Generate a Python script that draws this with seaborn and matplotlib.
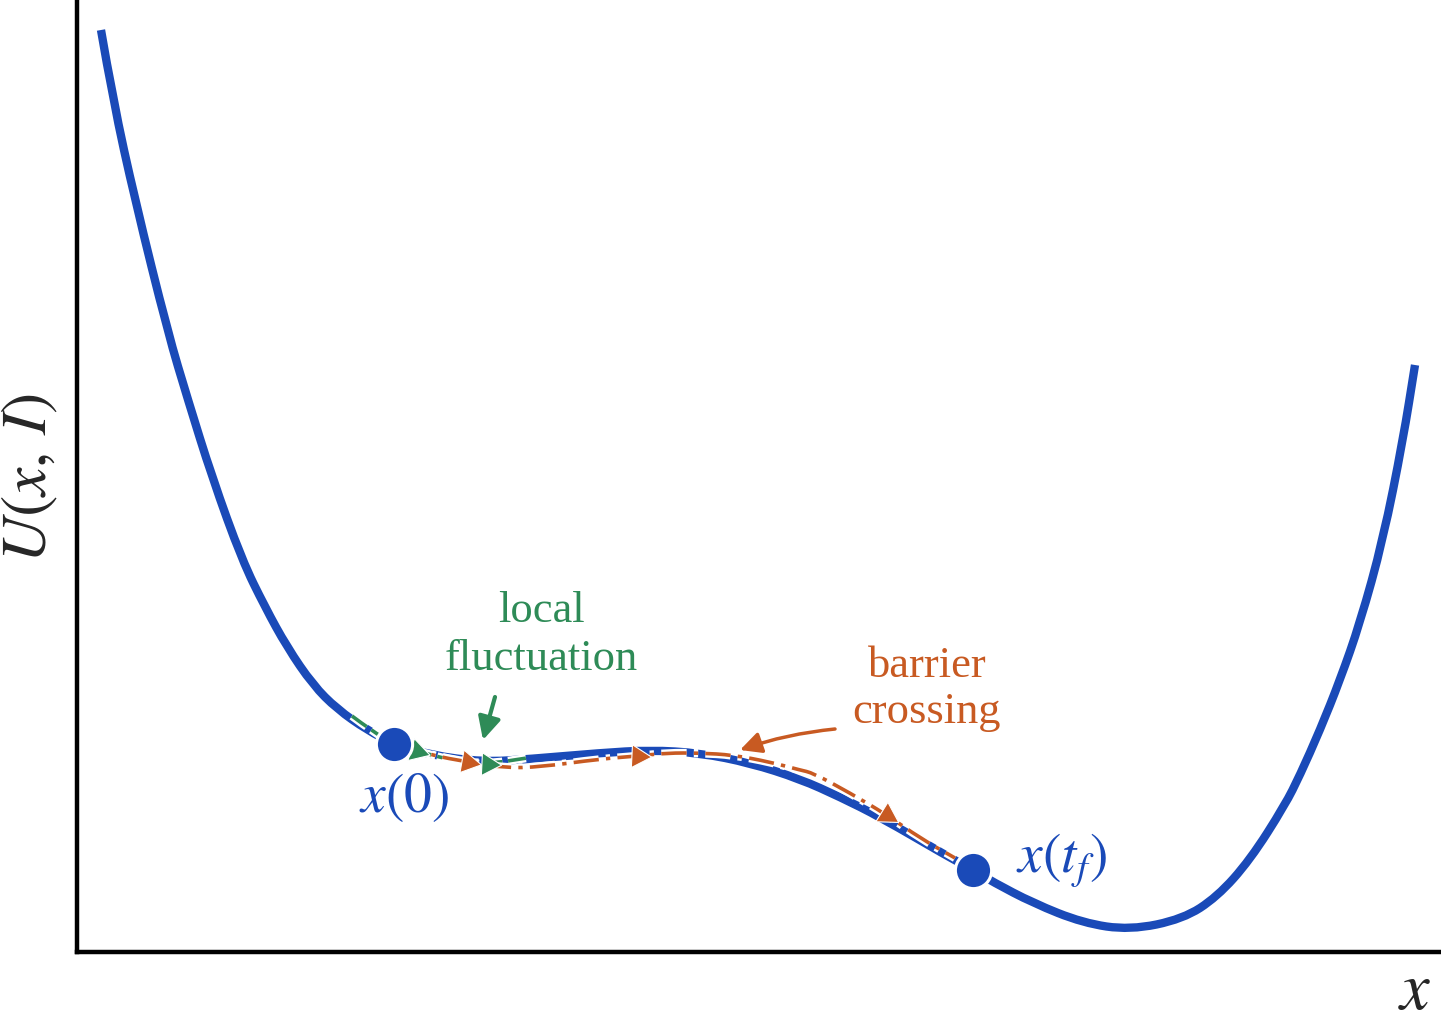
import numpy as np
import pandas as pd
import matplotlib
matplotlib.use("Agg")
import matplotlib.pyplot as plt
import matplotlib.patheffects as pe
from matplotlib.path import Path
from matplotlib.patches import PathPatch
import seaborn as sns

# ---- data (x and U in arbitrary units) ----
curve_x = [0.24, 0.36, 0.58, 0.91, 1.11, 1.35, 1.65, 1.88, 2.10, 2.36, 2.60, 2.90,
           3.17, 3.53, 4.06, 4.53, 5.23, 5.73, 6.23, 6.73, 7.23, 7.63, 8.03, 8.70,
           8.96, 9.16, 9.56, 10.06, 10.53, 11.06, 11.40, 11.73, 12.08, 12.23, 12.43,
           12.63, 12.83, 13.06, 13.26, 13.38]
curve_u = [9.22, 8.52, 7.52, 6.19, 5.52, 4.75, 3.92, 3.45, 3.05, 2.67, 2.43, 2.22,
           2.08, 1.97, 1.90, 1.93, 1.99, 2.02, 1.99, 1.89, 1.73, 1.55, 1.35, 0.96,
           0.82, 0.70, 0.49, 0.29, 0.22, 0.33, 0.55, 0.92, 1.47, 1.77, 2.22,
           2.72, 3.29, 4.12, 5.12, 5.87]

# start / end states
state_x = [3.17, 8.96]
state_u = [2.08, 0.82]
state_labels = [r"$x(0)$", r"$x(t_f)$"]

# local fluctuation path
fluct_x = [2.75, 2.95, 3.17, 3.40, 3.73, 4.11, 4.50]
fluct_u = [2.36, 2.21, 2.08, 2.01, 1.92, 1.88, 1.94]
fluct_heads_x = [3.40, 4.11]
fluct_heads_u = [2.01, 1.88]
fluct_heads_slope = [0.30, 0.05]

# barrier crossing path
cross_x = [3.23, 3.53, 3.91, 4.28, 4.63, 5.23, 5.61, 5.90, 6.23, 6.56, 6.93,
           7.23, 7.36, 7.73, 8.10, 8.43, 8.78]
cross_u = [2.06, 1.97, 1.90, 1.84, 1.85, 1.93, 1.96, 1.99, 1.99, 1.97, 1.90,
           1.82, 1.79, 1.59, 1.37, 1.14, 0.94]
cross_heads_x = [3.91, 5.61, 8.10]
cross_heads_u = [1.90, 1.96, 1.37]
cross_heads_slope = [0.18, 0.05, 0.62]

BLUE = "#1a4ab8"
ORANGE = "#c85a22"
GREEN = "#2e8b57"

sns.set_theme(style="white")
plt.rcParams["font.family"] = ["Liberation Serif", "DejaVu Serif"]
plt.rcParams["mathtext.fontset"] = "stix"

fig = plt.figure(figsize=(14.41, 10.24), dpi=100)
ax = fig.add_axes([77 / 1441, 72 / 1024, 1364 / 1441, 952 / 1024])
ax.set_xlim(0, 13.64)
ax.set_ylim(0, 9.52)


def smooth_path(xs, ys):
    """Quadratic Bezier path through the midpoints of the read points."""
    pts = list(zip(xs, ys))
    verts = [pts[0]]
    codes = [Path.MOVETO]
    for i in range(1, len(pts) - 1):
        mid = ((pts[i][0] + pts[i + 1][0]) / 2, (pts[i][1] + pts[i + 1][1]) / 2)
        verts += [pts[i], mid]
        codes += [Path.CURVE3, Path.CURVE3]
    verts.append(pts[-1])
    codes.append(Path.LINETO)
    return Path(verts, codes)


# potential curve
df = pd.DataFrame({"x": curve_x, "U": curve_u})
ax.add_patch(PathPatch(smooth_path(df["x"], df["U"]), fill=False, edgecolor=BLUE,
                       lw=6, capstyle="butt", joinstyle="round", zorder=2))

white_edge = [pe.Stroke(linewidth=6, foreground="white"), pe.Normal()]
ax.add_patch(PathPatch(smooth_path(fluct_x, fluct_u), fill=False, edgecolor=GREEN,
                       lw=2.6, ls=(0, (5, 1.6)), path_effects=white_edge, zorder=3))
ax.add_patch(PathPatch(smooth_path(cross_x, cross_u), fill=False, edgecolor=ORANGE,
                       lw=2.6, ls=(0, (7, 2, 1.2, 2)), path_effects=white_edge,
                       zorder=3))


def heads(xs, us, slopes, color):
    for hx, hu, s in zip(xs, us, slopes):
        ang = -90 - np.degrees(np.arctan(s))
        ax.plot([hx], [hu], marker=(3, 0, ang), markersize=19, color=color,
                markeredgecolor="white", markeredgewidth=0.8, zorder=4, ls="none")


heads(fluct_heads_x, fluct_heads_u, fluct_heads_slope, GREEN)
heads(cross_heads_x, cross_heads_u, cross_heads_slope, ORANGE)

sns.scatterplot(x=state_x, y=state_u, ax=ax, s=680, color=BLUE,
                edgecolor="white", linewidth=2.2, zorder=5, legend=False)

# state labels
ax.text(3.27, 1.40, state_labels[0], color=BLUE, fontsize=40, ha="center",
        va="baseline", zorder=6)
ax.text(9.85, 0.79, state_labels[1], color=BLUE, fontsize=40, ha="center",
        va="baseline", zorder=6)

# annotations
ax.text(4.64, 3.30, "local", color=GREEN, fontsize=32, ha="center", va="baseline")
ax.text(4.64, 2.82, "fluctuation", color=GREEN, fontsize=32, ha="center",
        va="baseline")
ax.annotate("", xy=(4.06, 2.12), xytext=(4.18, 2.55),
            arrowprops=dict(arrowstyle="-|>", color=GREEN, lw=3,
                            mutation_scale=34, shrinkA=0, shrinkB=0))

ax.text(8.50, 2.75, "barrier", color=ORANGE, fontsize=32, ha="center",
        va="baseline")
ax.text(8.50, 2.29, "crossing", color=ORANGE, fontsize=32, ha="center",
        va="baseline")
ax.annotate("", xy=(6.63, 2.02), xytext=(7.58, 2.23),
            arrowprops=dict(arrowstyle="-|>", color=ORANGE, lw=2.5,
                            mutation_scale=32, shrinkA=0, shrinkB=0,
                            connectionstyle="arc3,rad=0.06"))

# axis labels
ax.text(13.38, -0.715, r"$x$", fontsize=48, ha="center", va="bottom",
        clip_on=False)
ax.text(-0.47, 4.74, r"$U(x,\,I)$", fontsize=46, ha="center", va="center",
        rotation=90, clip_on=False)

ax.set_xticks([])
ax.set_yticks([])
ax.set_xlabel("")
ax.set_ylabel("")
for side in ["top", "right"]:
    ax.spines[side].set_visible(False)
for side in ["left", "bottom"]:
    ax.spines[side].set_color("black")
    ax.spines[side].set_linewidth(3.2)

fig.savefig("out.png", dpi=100, facecolor="white")
